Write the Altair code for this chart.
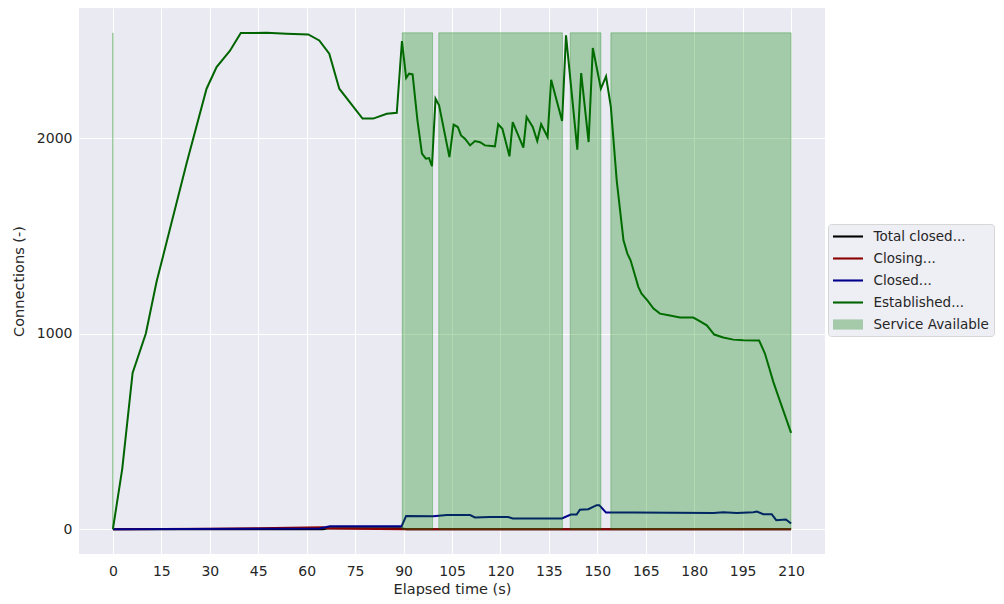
import altair as alt
import pandas as pd

# ---------------- data ----------------
est_t = [0, 2.9, 6.1, 10.2, 13.5, 22.8, 29.0, 32.1, 36.2, 39.6, 47.6, 53.8, 60.5, 63.9,
         67.0, 70.1, 77.3, 80.6, 84.8, 87.9, 89.5, 90.8, 91.7, 92.8, 94.3, 95.7, 96.9,
         97.9, 98.8, 99.9, 101.0, 104.2, 105.5, 106.8, 107.8, 109.0, 110.6, 112.1, 113.7,
         115.2, 118.3, 119.3, 120.6, 122.8, 123.8, 127.1, 128.1, 130.0, 131.4, 132.6,
         134.6, 135.7, 139.1, 140.3, 143.8, 145.0, 147.3, 148.6, 151.1, 152.7, 154.2,
         156.0, 158.1, 159.3, 160.3, 162.7, 163.7, 165.5, 167.4, 169.4, 172.5, 175.6,
         179.7, 181.3, 183.9, 186.2, 189.0, 192.1, 195.2, 200.1, 201.9, 204.5, 206.1, 210.0]
est_v = [0, 310, 800, 1001, 1265, 1871, 2254, 2365, 2447, 2539, 2540, 2535, 2532, 2501,
         2433, 2254, 2101, 2101, 2126, 2131, 2498, 2309, 2331, 2327, 2092, 1922, 1896,
         1899, 1857, 2203, 2169, 1904, 2070, 2058, 2015, 1998, 1964, 1986, 1980,
         1964, 1959, 2072, 2049, 1908, 2083, 1952, 2109, 2058, 1986, 2072,
         2007, 2300, 2089, 2527, 1942, 2334, 1981, 2462, 2254, 2317, 2160,
         1785, 1478, 1410, 1376, 1240, 1205, 1171, 1129, 1103, 1093, 1083,
         1083, 1069, 1043, 996, 981, 970, 967, 965, 899, 754, 677, 493]

closed_t = [0, 64.0, 67.2, 89.4, 90.8, 99.2, 103.4, 110.6, 112.1, 116.8, 122.4, 123.8,
            139.0, 141.8, 143.6, 144.6, 147.2, 149.8, 150.6, 152.7, 161.2, 186.0, 189.0,
            193.2, 198.3, 199.4, 201.4, 204.0, 205.4, 208.4, 210.0]
closed_v = [0, 3, 15, 15, 68, 66, 72, 72, 60, 62, 62, 55,
            55, 75, 75, 100, 102, 123, 123, 85, 85, 83, 87,
            83, 87, 90, 77, 77, 46, 50, 29]

closing_t = [0, 30, 45, 60, 65, 67, 90, 210]
closing_v = [0, 2, 5, 8, 10, 3, 0, 0]

total_t = [0, 65, 67, 89, 91, 210]
total_v = [0, 0, 5, 5, 0, 0]

span_start = [0, 89.6, 100.9, 141.6, 154.2]
span_end = [0, 99.0, 139.2, 151.1, 210.0]

series_names = ["Total closed...", "Closing...", "Closed...", "Established...", "Service Available"]
series_colors = ["#000000", "#8B0000", "#00008B", "#006400", "#A4CAA9"]
x_ticks = list(range(0, 211, 15))
y_ticks = [0, 1000, 2000]

# ---------------- tables ----------------
series_data = [(series_names[0], total_t, total_v),
               (series_names[1], closing_t, closing_v),
               (series_names[2], closed_t, closed_v),
               (series_names[3], est_t, est_v)]

top = max(est_v)
spans_df = pd.DataFrame({"start": span_start, "end": span_end,
                         "top": [top] * len(span_start), "bottom": [0] * len(span_start)})

FONT = "DejaVu Sans"
TXT = "#262626"

x_scale = alt.Scale(domain=[-10.5, 220.5], nice=False, zero=False)
y_scale = alt.Scale(domain=[-127, 2667], nice=False, zero=False)

x_axis = alt.Axis(values=x_ticks, title="Elapsed time (s)", labelPadding=10, titlePadding=4)
y_axis = alt.Axis(values=y_ticks, format="d", title="Connections (-)", labelPadding=7, titlePadding=10)

layers = []
for i, (name, ts, vs) in enumerate(series_data):
    df = pd.DataFrame({"t": ts, "v": vs, "series": name})
    if i == 0:
        kw = dict(x=alt.X("t:Q", scale=x_scale, axis=x_axis),
                  y=alt.Y("v:Q", scale=y_scale, axis=y_axis))
    else:
        kw = dict(x=alt.X("t:Q"), y=alt.Y("v:Q"))
    layers.append(alt.Chart(df).mark_line(strokeWidth=2, color=series_colors[i]).encode(**kw))

rects = alt.Chart(spans_df).mark_rect(
    fill="green", fillOpacity=0.3, stroke="green", strokeOpacity=0.3, strokeWidth=1
).encode(x="start:Q", x2="end:Q", y="top:Q", y2="bottom:Q")

line_path = "M-2,-0.14L2,-0.14L2,0.14L-2,0.14Z"
box_path = "M-2,-0.68L2,-0.68L2,0.68L-2,0.68Z"
legend = alt.Legend(title=None, orient="none", legendX=749, legendY=216,
                    symbolSize=225, symbolStrokeWidth=0, symbolOpacity=1, symbolOffset=7.5,
                    labelFontSize=13.5, labelColor=TXT, labelFont=FONT, labelOffset=18,
                    fillColor="#EEEEF5", strokeColor="#D6D6D6", cornerRadius=3,
                    padding=5, rowPadding=8)
legend_df = pd.DataFrame({"series": series_names, "t": [0] * 5, "v": [0] * 5})
legend_layer = alt.Chart(legend_df).mark_point(filled=True).encode(
    x="t:Q", y="v:Q",
    color=alt.Color("series:N", scale=alt.Scale(domain=series_names, range=series_colors), legend=legend),
    shape=alt.Shape("series:N", scale=alt.Scale(domain=series_names,
                                                range=[line_path] * 4 + [box_path]), legend=legend),
).transform_filter("false")

chart = alt.layer(*layers, rects, legend_layer).properties(
    width=746, height=546, padding={"left": 3, "top": 0, "right": 0, "bottom": 0}
).configure_view(fill="#EAEAF2", stroke=None).configure_axis(
    grid=True, gridColor="white", gridWidth=1, domain=False, ticks=False,
    labelFont=FONT, labelFontSize=14, labelColor=TXT,
    titleFont=FONT, titleFontSize=14.5, titleColor=TXT, titleFontWeight="normal"
)

chart.save("out.html", embed_options={"renderer": "svg", "actions": False})
